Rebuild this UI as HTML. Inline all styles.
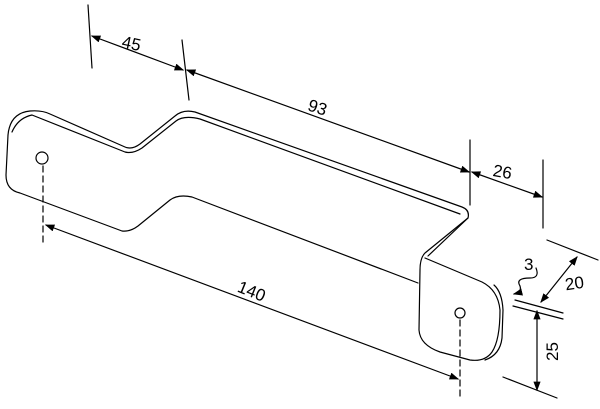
<!DOCTYPE html>
<html><head><style>body{margin:0;background:#fff}svg{display:block}</style></head><body>
<svg width="600" height="409" viewBox="0 0 600 409" xmlns="http://www.w3.org/2000/svg">
<defs><marker id="a" markerWidth="8" markerHeight="6" refX="7" refY="3" orient="auto-start-reverse"><path d="M0,0 L8,3 L0,6 z" fill="#000"/></marker></defs>
<g fill="none" stroke="#000" stroke-width="1.2" stroke-linecap="round" stroke-linejoin="round">
<line x1="88" y1="5" x2="92" y2="68"/>
<line x1="182" y1="40" x2="189" y2="100"/>
<line x1="470" y1="140" x2="470" y2="205"/>
<line x1="543" y1="160" x2="543" y2="228"/>
<line x1="92" y1="36" x2="183" y2="70" marker-start="url(#a)" marker-end="url(#a)"/>
<line x1="187" y1="70" x2="469" y2="172" marker-start="url(#a)" marker-end="url(#a)"/>
<line x1="472" y1="172" x2="542" y2="197" marker-start="url(#a)" marker-end="url(#a)"/>
<line x1="46" y1="225" x2="458" y2="379" marker-start="url(#a)" marker-end="url(#a)"/>
<path d="M8,135 Q10,113 30,111 Q42,110 50,114 L125,147 Q132,150 140,144 L175,116 Q183,109 195,112 L462,207 Q470,210 468,218 L428,256"/>
<path d="M12,132 Q18,118 32,115 L125,152 Q133,154 142,148 L176,121 Q184,115 200,119 L460,214"/>
<path d="M8,135 L6,175 Q6,190 20,193 L122,231 Q130,232 138,226 L170,200 Q178,194 192,197 L418,283"/>
<path d="M468,218 L425,253 Q420,258 420,270 L419,330 Q420,345 440,352 L470,360 Q485,362 492,352 Q500,340 500,310 Q498,290 482,282 L425,258"/>
<path d="M494,285 Q502,292 503,310 L502,338 Q500,355 485,360"/>
<circle cx="42" cy="158" r="6"/>
<circle cx="460" cy="313" r="5"/>
<line x1="43" y1="166" x2="43" y2="242" stroke-dasharray="6,4"/>
<line x1="460" y1="320" x2="460" y2="400" stroke-dasharray="6,4"/>
<line x1="547" y1="240" x2="598" y2="260"/>
<line x1="515" y1="300" x2="563" y2="313"/>
<line x1="513" y1="306" x2="563" y2="319"/>
<line x1="577" y1="257" x2="541" y2="302" marker-start="url(#a)" marker-end="url(#a)"/>
<line x1="537" y1="311" x2="537" y2="390" marker-start="url(#a)" marker-end="url(#a)"/>
<line x1="503" y1="377" x2="557" y2="398"/>
<path d="M536,268 Q540,278 530,278 Q515,278 520,286 Q522,292 514,294" marker-end="url(#a)"/>
</g>
<g font-family="Liberation Sans, sans-serif" font-size="17" fill="#000">
<text x="122" y="50" transform="rotate(12 135 44)">45</text>
<text x="308" y="114" transform="rotate(18 320 108)">93</text>
<text x="493" y="178" transform="rotate(10 505 172)">26</text>
<text x="238" y="297" transform="rotate(22 252 290)">140</text>
<text x="565" y="289" transform="rotate(-8 575 283)">20</text>
<text x="524" y="270">3</text>
<text x="543" y="358" transform="rotate(-90 552 352)">25</text>
</g>
</svg>
</body></html>
